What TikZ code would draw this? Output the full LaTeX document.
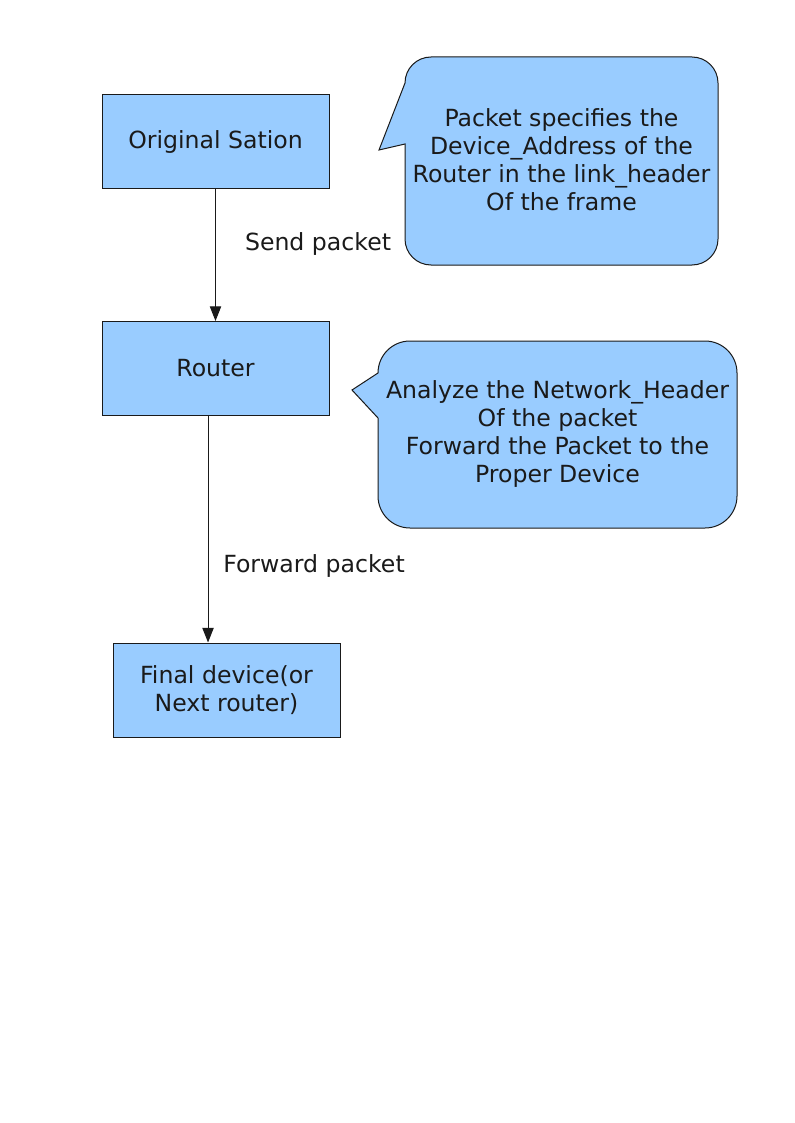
\documentclass[tikz,border=0pt]{standalone}
\usepackage{fontspec}
\setmainfont{DejaVu Sans}
\usetikzlibrary{arrows.meta}
\definecolor{boxblue}{HTML}{99CCFF}
\definecolor{ink}{HTML}{1A1A1A}
\tikzset{
  box/.style={draw=ink, fill=boxblue, line width=0.75pt, minimum width=170.25pt, minimum height=70.5pt, inner sep=0pt, align=center, text=ink, font=\fontsize{17.7}{21}\selectfont},
  lbl/.style={text=ink, font=\fontsize{17.7}{21}\selectfont, inner sep=0pt},
  bubble/.style={draw=ink, fill=boxblue, line width=0.75pt},
  btext/.style={text=ink, align=center, font=\fontsize{17.7}{21}\selectfont, inner sep=0pt},
  arr/.style={draw=ink, line width=0.75pt, -{Triangle[width=8.5pt,length=11pt]}}
}
\begin{document}
\begin{tikzpicture}[x=0.75pt,y=-0.75pt]
\useasboundingbox (0,0) rectangle (794,1123);
\fill[white] (0,0) rectangle (794,1123);
% boxes
\node[box] (orig) at (215.5,142) {Original Sation};
\node[box] (router) at (215.5,368.5) {Router};
\node[box] (final) at (226.5,690) {Final device(or\\ Next router)};
% connectors
\draw[arr] (orig.south) -- (router.north);
\draw[arr] ([xshift=-5.6pt]router.south) -- ([xshift=-5.6pt]router.south |- final.north);
\node[lbl] (send) at (318,244) {Send packet};
\node[lbl] (fwd) at (314,566) {Forward packet};
% callout 1
\draw[bubble] (379,150) -- (405,83) [rounded corners=19.5pt] -- (405,57) -- (718,57) -- (718,265) -- (405,265) [sharp corners] -- (405,144) -- cycle;
\node[btext] (c1) at (561.5,160) {Packet specifies the\\Device\_Address of the\\Router in the link\_header\\Of the frame};
% callout 2
\draw[bubble] (352,390) -- (378,373) [rounded corners=24pt] -- (378,341) -- (737,341) -- (737,528) -- (378,528) [sharp corners] -- (378,418) -- cycle;
\node[btext] (c2) at (557.5,434) {Analyze the Network\_Header\\Of the packet\\Forward the Packet to the\\Proper Device};
\end{tikzpicture}
\end{document}
